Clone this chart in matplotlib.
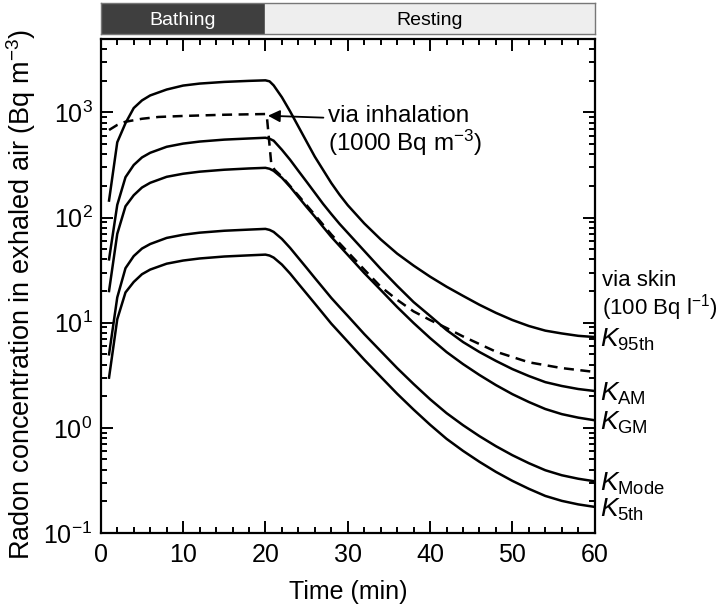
import matplotlib
matplotlib.use("Agg")
import matplotlib.pyplot as plt
from matplotlib.ticker import LogLocator, MultipleLocator

plt.rcParams['font.family'] = ['Liberation Sans', 'DejaVu Sans']
plt.rcParams['mathtext.fontset'] = 'custom'
plt.rcParams['mathtext.rm'] = 'Liberation Sans'
plt.rcParams['mathtext.it'] = 'Liberation Sans:italic'
plt.rcParams['mathtext.bf'] = 'Liberation Sans:bold'

# time points (min) for the skin-uptake curves
t = [1, 2, 3, 4, 5, 6, 8, 10, 12, 15, 18, 20, 20.5, 21, 22, 23, 24, 25, 26,
     27, 28, 29, 30, 32, 34, 36, 38, 40, 42, 44, 46, 48, 50, 52, 54, 56, 58,
     60]

k_95th = [145, 520, 790, 1100, 1300, 1450, 1650, 1800, 1880, 1950, 1995, 2018,
          1974, 1806, 1393, 1022, 734, 527, 379, 284, 213, 165, 131, 88, 62,
          45.4, 34.9, 27.4, 22.0, 18.0, 14.8, 12.4, 10.6, 9.3, 8.4, 7.9, 7.5,
          7.3]
k_am = [40, 132, 242, 316, 373, 413, 471, 505, 528, 551, 565, 574,
        562, 538, 441, 354, 278, 219, 172, 135, 108, 87.1, 71.5, 48.2, 32.5,
        22.4, 15.7, 11.6, 8.52, 6.55, 5.26, 4.33, 3.62, 3.11, 2.72, 2.50, 2.34,
        2.24]
k_gm = [20, 70, 128, 163, 193, 214, 244, 261, 273, 285, 293, 297,
        291, 278, 239, 196, 157, 126, 102, 81.5, 65.5, 53.7, 44.1, 29.7, 20.5,
        14.1, 9.93, 7.14, 5.26, 4.04, 3.18, 2.55, 2.09, 1.76, 1.51, 1.35, 1.25,
        1.18]
k_mode = [5, 17.4, 33, 43, 50.7, 56, 64, 68.6, 71.8, 74.9, 76.8, 78,
          76.3, 73.0, 62.6, 51.4, 41.3, 33.2, 26.6, 21.4, 17.2, 14.1, 11.6,
          7.80, 5.37, 3.70, 2.61, 1.87, 1.38, 1.06, 0.833, 0.669, 0.549, 0.461,
          0.395, 0.354, 0.328, 0.310]
k_5th = [3, 10.8, 19.4, 24.4, 28.9, 32, 36.4, 39, 40.8, 42.6, 43.7, 44.4,
         43.5, 41.6, 35.7, 29.3, 23.5, 18.9, 15.2, 12.2, 9.79, 8.04, 6.60,
         4.45, 3.06, 2.11, 1.49, 1.07, 0.786, 0.604, 0.475, 0.381, 0.313,
         0.263, 0.225, 0.202, 0.187, 0.177]

# inhalation curve
t_inh = [1, 2, 3, 5, 7, 10, 15, 20, 20.15, 20.7, 21.1, 22, 24, 26, 28, 30, 32,
         34, 36, 38, 40, 42, 44, 48, 52, 56, 60]
c_inh = [680, 760, 815, 870, 905, 925, 950, 965, 955, 330, 285, 245, 162, 106,
         69, 47, 32, 22, 16.5, 12.8, 10.6, 8.9, 7.4, 5.3, 4.2, 3.7, 3.4]

skin_curves = [k_95th, k_am, k_gm, k_mode, k_5th]
k_labels = ['$K_{\\mathrm{95th}}$', '$K_{\\mathrm{AM}}$', '$K_{\\mathrm{GM}}$',
            '$K_{\\mathrm{Mode}}$', '$K_{\\mathrm{5th}}$']

fig = plt.figure(figsize=(7.2, 6.08), dpi=100)
ax = fig.add_axes([0.140, 0.1234, 0.686, 0.8126])

for vals in skin_curves:
    ax.plot(t, vals, color='black', lw=1.8, solid_joinstyle='round')
ax.plot(t_inh, c_inh, color='black', lw=1.8, ls=(0, (4, 2.6)))

ax.set_yscale('log')
ax.set_xlim(0, 60)
ax.set_ylim(0.1, 5000)
ax.xaxis.set_major_locator(MultipleLocator(10))
ax.xaxis.set_minor_locator(MultipleLocator(2))
ax.yaxis.set_major_locator(LogLocator(base=10, numticks=10))
ax.yaxis.set_minor_locator(LogLocator(base=10, subs=range(2, 10), numticks=20))
ax.tick_params(which='both', direction='in', top=True, right=True,
               labelsize=18, width=1.4)
ax.tick_params(which='major', length=8.5)
ax.tick_params(which='minor', length=4.5)
ax.tick_params(axis='x', pad=7)
ax.tick_params(axis='y', pad=6)
for sp in ax.spines.values():
    sp.set_linewidth(1.6)

ax.set_xlabel('Time (min)', fontsize=18, va='top')
ax.xaxis.set_label_coords(0.5, -0.096)
ax.set_ylabel('Radon concentration in exhaled air (Bq m$^{-3}$)',
              fontsize=19.5)
ax.yaxis.set_label_coords(-0.128, 0.482)

# right-hand labels, K glyph centred on the end of each curve
for vals, lab in zip(skin_curves, k_labels):
    ax.annotate(lab, xy=(60, vals[-1]), xytext=(4, -7),
                textcoords='offset points', fontsize=19, va='baseline',
                ha='left', annotation_clip=False)
ax.annotate('via skin\n(100 Bq l$^{-1}$)', xy=(60, 14), xytext=(5, 8),
            textcoords='offset points', fontsize=16, va='center', ha='left',
            linespacing=1.05, annotation_clip=False)

ax.annotate('via inhalation\n(1000 Bq m$^{-3}$)', xy=(20.3, 930),
            xytext=(27.6, 1180), fontsize=17.5, va='top', ha='left',
            linespacing=1.05,
            arrowprops=dict(arrowstyle='-|>', color='black', lw=1.3,
                            mutation_scale=18, shrinkA=0, shrinkB=0,
                            relpos=(-0.03, 0.76)))

# phase bar on top
bar = fig.add_axes([0.140, 0.944, 0.686, 0.051])
bar.set_xlim(0, 60)
bar.set_ylim(0, 1)
bar.axvspan(0, 20, color='#3f3f3f')
bar.axvspan(20, 60, color='#eeeeee')
bar.text(10, 0.45, 'Bathing', color='white', fontsize=14,
         ha='center', va='center')
bar.text(40, 0.45, 'Resting', color='black', fontsize=14,
         ha='center', va='center')
bar.set_xticks([])
bar.set_yticks([])
for sp in bar.spines.values():
    sp.set_color('#777777')
    sp.set_linewidth(1)

fig.savefig('out.png', dpi=100)
